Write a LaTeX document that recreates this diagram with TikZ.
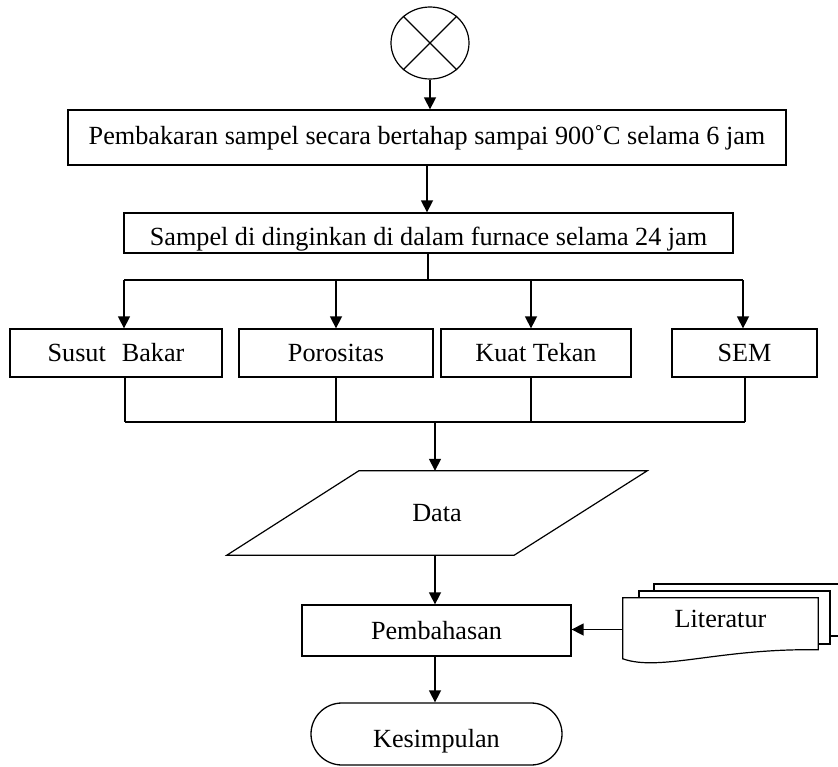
\documentclass[tikz,border=0pt]{standalone}
\usepackage{fontspec}
\setmainfont{Liberation Serif}
\usetikzlibrary{shapes.geometric,arrows.meta,calc,backgrounds}
\begin{document}
\begin{tikzpicture}[x=1pt,y=-1pt,
  every node/.style={font=\fontsize{26.2}{30}\selectfont},
  box/.style={draw,line width=1.3pt,inner sep=0pt},
  ln/.style={line width=1.2pt},
  arr/.style={line width=1.5pt,-{Triangle[length=12pt,width=12pt]}}]
\useasboundingbox (0,0) rectangle (838,766);
\clip (0,0) rectangle (838,766);

% start symbol
\node[draw,ellipse,ln,minimum width=78pt,minimum height=72pt,inner sep=0pt] (start) at (430,43) {};
\draw[ln] (start.135) -- (start.-45);
\draw[ln] (start.45) -- (start.-135);

% main boxes
\node[box,minimum width=718pt,minimum height=55pt] (b1) at (427,137.5) {Pembakaran sampel secara bertahap sampai 900˚C selama 6 jam};
\node[box,minimum width=609pt,minimum height=40pt,text height=28pt,text depth=4pt] (b2) at (428.5,233) {Sampel di dinginkan di dalam furnace selama 24 jam};

\node[box,minimum width=212pt,minimum height=48pt] (susut) at (116,353) {Susut\hspace{16pt}Bakar};
\node[box,minimum width=194pt,minimum height=48pt] (por) at (336,353) {Porositas};
\node[box,minimum width=190pt,minimum height=48pt] (kuat) at (536,353) {Kuat Tekan};
\node[box,minimum width=145pt,minimum height=48pt] (sem) at (744.5,353) {SEM};

\node[inner sep=0pt,minimum width=420pt,minimum height=84pt] (data) at (437,513) {Data};
\draw[ln] (data.south west) -- ($(data.north west)+(132,0)$) -- (data.north east) -- ($(data.south east)+(-133,0)$) -- cycle;

\node[box,minimum width=269pt,minimum height=51pt] (pem) at (436.5,630.5) {Pembahasan};
\node[box,rounded corners=31pt,minimum width=251pt,minimum height=62pt,text height=29pt,text depth=2pt] (kes) at (436.5,734) {Kesimpulan};

% Literatur document stack
\node[inner sep=0pt,minimum width=195pt,minimum height=63pt,text height=5pt,text depth=9pt] (lit) at (720.5,629.5) {Literatur};
\begin{pgfonlayer}{background}
\draw[ln,fill=white] (654,584) rectangle (850,636);
\draw[ln,fill=white] (639,591) rectangle (830,644);
\draw[ln,fill=white] (lit.north west) -- (lit.north east) -- ($(lit.north east)+(0,52)$)
  .. controls (720,648) and (660,672) .. ($(lit.north west)+(0,61)$) -- cycle;
\end{pgfonlayer}

% connectors
\draw[arr] (start.south) -- (start.south |- b1.north);
\draw[arr] (b1.south) -- (b1.south |- b2.north);

\coordinate (split) at (428,280);
\coordinate (s1) at (124,280);
\coordinate (s3) at (531,280);
\coordinate (s4) at (743,280);
\draw[ln] (b2.south -| split) -- (split);
\draw[ln] (s1) -- (s4);
\draw[arr] (s1) -- (s1 |- susut.north);
\draw[arr] (por.north |- s1) -- (por.north);
\draw[arr] (s3) -- (s3 |- kuat.north);
\draw[arr] (s4) -- (s4 |- sem.north);

\coordinate (m1) at (125,422);
\coordinate (m3) at (531,422);
\coordinate (m4) at (745,422);
\coordinate (m) at (435,422);
\draw[ln] (susut.south -| m1) -- (m1);
\draw[ln] (por.south) -- (por.south |- m1);
\draw[ln] (kuat.south -| m3) -- (m3);
\draw[ln] (sem.south -| m4) -- (m4);
\draw[ln] (m1) -- (m4);
\draw[arr] (m) -- (m |- data.north);
\draw[arr] (data.south -| m) -- (pem.north -| m);
\draw[arr] (pem.south -| m) -- (kes.north -| m);
\draw[arr] (lit.west) -- (lit.west -| pem.east);
\end{tikzpicture}
\end{document}
